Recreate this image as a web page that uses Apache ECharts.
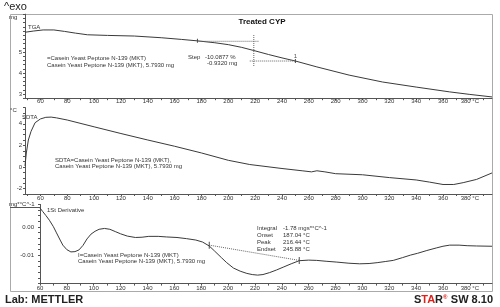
<!DOCTYPE html>
<html>
<head>
<meta charset="utf-8">
<script src="https://cdn.jsdelivr.net/npm/echarts@6/dist/echarts.min.js"></script>
<style>
  html, body { margin: 0; padding: 0; background: #fff; }
  #chart { width: 500px; height: 307px; }
</style>
</head>
<body>
<div id="chart"></div>
<script>
// temperature axis (°C)
const xTickValues = [50, 60, 70, 80, 90, 100, 110, 120, 130, 140, 150, 160, 170, 180, 190, 200, 210, 220, 230, 240, 250, 260, 270, 280, 290, 300, 310, 320, 330, 340, 350, 360, 370, 380, 390];
const xLabelValues = [60, 80, 100, 120, 140, 160, 180, 200, 220, 240, 260, 280, 300, 320, 340, 360, 380];

// TGA (mg)
const tgaTemp = [48.5, 55, 62, 70, 78, 86, 95, 110, 130, 150, 165, 177, 190, 200, 210, 219, 230, 240, 250, 266, 290, 315, 340, 365, 380, 396.5];
const tgaMass = [5.94, 6.0, 6.05, 6.05, 5.98, 5.9, 5.82, 5.79, 5.76, 5.68, 5.6, 5.53, 5.44, 5.35, 5.22, 5.07, 4.88, 4.72, 4.57, 4.29, 3.9, 3.57, 3.33, 3.1, 2.98, 2.86];
const tgaTicks = [2.8, 3.0, 3.2, 3.4, 3.6, 3.8, 4.0, 4.2, 4.4, 4.6, 4.8, 5.0, 5.2, 5.4, 5.6, 5.8, 6.0, 6.2, 6.4, 6.6, 6.8];
const tgaLabels = [3, 4, 5];
const stepUpper = [[177, 5.51], [223, 5.51]];
const stepLower = [[216, 4.57], [250, 4.57]];
const stepVertical = [[219, 5.81], [219, 4.3]];
const stepMarks = [[177, 5.53], [250, 4.57]];

// SDTA (°C)
const sdtaTemp = [48.5, 49.5, 51, 53, 56, 60, 64, 68, 72, 80, 100, 120, 140, 160, 180, 200, 216, 240, 255, 262, 266, 272, 280, 300, 320, 340, 350, 360, 368, 375, 385, 396.5];
const sdtaValue = [0.1, 1.3, 2.5, 3.3, 4.1, 4.45, 4.6, 4.62, 4.55, 4.35, 3.72, 3.1, 2.5, 1.92, 1.3, 0.62, 0.23, -0.14, -0.35, -0.45, -0.35, -0.45, -0.62, -0.72, -0.98, -1.2, -1.4, -1.62, -1.62, -1.45, -1.15, -0.55];
const sdtaTicks = [-2.5, -2, -1.5, -1, -0.5, 0, 0.5, 1, 1.5, 2, 2.5, 3, 3.5, 4, 4.5, 5, 5.5];
const sdtaLabels = [-2, 0, 2, 4];

// 1st derivative (mg*°C^-1)
const derivTemp = [60, 62, 64.5, 67, 70, 72, 75, 77, 80, 83, 86, 89, 92, 95, 98, 101, 104, 108, 112, 116, 120, 125, 131, 136, 141, 148, 154, 162, 169, 176, 181, 186, 190, 195, 199, 204, 209, 214, 218, 222, 226, 231, 236, 241, 247, 253, 260, 266, 273, 281, 290, 298, 305, 311, 317, 323, 330, 336, 341, 348, 355, 360, 365, 372, 378, 385, 396.5];
const derivValue = [0.0067, 0.0055, 0.004, 0.0024, 0.0001, -0.0018, -0.0046, -0.0064, -0.008, -0.0088, -0.0087, -0.0081, -0.0065, -0.0042, -0.0025, -0.0015, -0.0008, -0.0005, -0.0008, -0.0016, -0.0024, -0.0032, -0.0037, -0.0036, -0.0033, -0.0033, -0.0035, -0.0037, -0.0041, -0.0046, -0.0053, -0.0067, -0.0085, -0.0108, -0.0126, -0.0145, -0.0156, -0.0164, -0.0168, -0.0170, -0.0168, -0.0161, -0.0152, -0.0142, -0.0130, -0.0119, -0.0117, -0.0118, -0.0121, -0.0124, -0.0128, -0.0130, -0.0129, -0.0126, -0.0122, -0.0118, -0.0108, -0.0099, -0.0093, -0.0083, -0.0074, -0.0068, -0.0064, -0.0064, -0.0066, -0.0067, -0.0068];
const derivTicks = [-0.02, -0.018, -0.016, -0.014, -0.012, -0.01, -0.008, -0.006, -0.004, -0.002, 0, 0.002, 0.004, 0.006, 0.008];
const derivLabels = [-0.01, 0];
const integralBaseline = [[186, -0.0064], [253, -0.0118]];

const FONT = "'Liberation Sans', Arial, sans-serif";
const INK = "#333";
const AXIS = "#555";

const zip = (a, b) => a.map((v, i) => [v, b[i]]);

const makeX = (gridIndex, min, margin) => ({
  type: "value",
  gridIndex,
  min,
  max: 396.5,
  axisLine: { show: true, onZero: false, lineStyle: { color: AXIS, width: 1 } },
  axisTick: { show: true, length: 2, customValues: xTickValues, lineStyle: { color: AXIS } },
  axisLabel: {
    customValues: xLabelValues,
    fontSize: 6,
    fontFamily: FONT,
    color: INK,
    margin,
    formatter: (v) => (v === 380 ? "380 °C" : String(v)),
  },
  splitLine: { show: false },
});

const makeY = (gridIndex, min, max, ticks, labels, fmt, margin) => ({
  type: "value",
  gridIndex,
  min,
  max,
  axisLine: { show: true, onZero: false, lineStyle: { color: AXIS, width: 1 } },
  axisTick: { show: true, length: 2, customValues: ticks, lineStyle: { color: AXIS } },
  axisLabel: {
    customValues: labels,
    fontSize: 6,
    fontFamily: FONT,
    color: INK,
    margin,
    formatter: fmt,
  },
  splitLine: { show: false },
});

const lineSeries = (xi, data, style) => ({
  type: "line",
  xAxisIndex: xi,
  yAxisIndex: xi,
  data,
  symbol: "none",
  silent: true,
  lineStyle: Object.assign({ color: "#3a3a3a", width: 1 }, style || {}),
});

const txt = (text, x, y, extra) => ({
  type: "text",
  x,
  y,
  style: Object.assign(
    { text, fill: INK, font: "6px " + FONT, textVerticalAlign: "middle" },
    extra || {}
  ),
});

const chart = echarts.init(document.getElementById("chart"), null, { renderer: "canvas" });

const option = {
  animation: false,
  backgroundColor: "#fff",
  grid: [
    { left: 25, right: 8, top: 14.2, height: 84 },
    { left: 25, right: 8, top: 107.6, height: 86.4 },
    { left: 40, right: 8, top: 204.4, height: 79.2 },
  ],
  xAxis: [makeX(0, 48.5, 0), makeX(1, 48.5, 1), makeX(2, 60, 2)],
  yAxis: [
    makeY(0, 2.8, 6.8, tgaTicks, tgaLabels, (v) => String(Math.round(v)), 3),
    makeY(1, -2.5, 5.5, sdtaTicks, sdtaLabels, (v) => String(Math.round(v)), 3),
    makeY(2, -0.02, 0.008, derivTicks, derivLabels, (v) => v.toFixed(2), 6),
  ],
  series: [
    lineSeries(0, zip(tgaTemp, tgaMass)),
    lineSeries(0, stepUpper, { type: "dotted", color: "#666" }),
    lineSeries(0, stepLower, { type: "dotted", color: "#666" }),
    lineSeries(0, stepVertical, { type: "dotted", color: "#666" }),
    {
      type: "scatter",
      xAxisIndex: 0,
      yAxisIndex: 0,
      data: stepMarks,
      symbol: "rect",
      symbolSize: [1, 4],
      itemStyle: { color: "#222" },
      label: {
        show: true,
        formatter: (p) => (p.dataIndex === 1 ? "1" : ""),
        position: "top",
        distance: 0,
        fontSize: 6,
        fontFamily: FONT,
        color: "#222",
      },
    },
    lineSeries(1, zip(sdtaTemp, sdtaValue)),
    lineSeries(2, zip(derivTemp, derivValue)),
    lineSeries(2, integralBaseline, { type: "dotted", color: "#666" }),
    {
      type: "scatter",
      xAxisIndex: 2,
      yAxisIndex: 2,
      data: integralBaseline,
      symbol: "rect",
      symbolSize: [1, 7],
      itemStyle: { color: "#222" },
    },
  ],
  graphic: [
    {
      type: "rect",
      shape: { x: 10.5, y: 14.5, width: 482, height: 277 },
      style: { fill: "none", stroke: "#aaa", lineWidth: 1 },
      silent: true,
    },
    {
      type: "line",
      shape: { x1: 10, y1: 207.5, x2: 40, y2: 207.5 },
      style: { stroke: "#555", lineWidth: 1 },
      silent: true,
    },
    txt("^exo", 4, 7, { font: "11px " + FONT, fill: "#222" }),
    txt("Treated CYP", 262, 22, { font: "bold 8px " + FONT, fill: "#111", textAlign: "center" }),
    txt("mg", 9, 17),
    txt("TGA", 28, 27),
    txt("=Casein Yeast Peptone N-139 (MKT)", 47, 58.5),
    txt("Casein Yeast Peptone N-139 (MKT), 5.7930 mg", 47, 65),
    txt("Step", 188, 57),
    txt("-10.0877 %", 205, 57),
    txt("-0.9320 mg", 207, 63.5),
    txt("°C", 10, 110),
    txt("SDTA", 22, 117.5),
    txt("SDTA=Casein Yeast Peptone N-139 (MKT),", 55, 160),
    txt("Casein Yeast Peptone N-139 (MKT), 5.7930 mg", 55, 166),
    txt("mg*°C^-1", 9, 204),
    txt("1St Derivative", 47, 210),
    txt("Integral", 257, 228.5),
    txt("-1.78 mgs*°C^-1", 283, 228.5),
    txt("Onset", 257, 235.5),
    txt("187.04 °C", 283, 235.5),
    txt("Peak", 257, 242.5),
    txt("216.44 °C", 283, 242.5),
    txt("Endset", 257, 249.5),
    txt("245.88 °C", 283, 249.5),
    txt("I=Casein Yeast Peptone N-139 (MKT)", 78, 255),
    txt("Casein Yeast Peptone N-139 (MKT), 5.7930 mg", 78, 261),
    txt("Lab: METTLER", 5, 300, { font: "bold 11px " + FONT, fill: "#222" }),
    {
      type: "text",
      x: 493,
      y: 300,
      style: {
        text: "{k|S}{r|TA}{k|R}{s|®} {k|SW 8.10}",
        textAlign: "right",
        textVerticalAlign: "middle",
        rich: {
          k: { font: "bold 11px " + FONT, fill: "#222" },
          r: { font: "bold 11px " + FONT, fill: "#e0201b" },
          s: { font: "bold 6px " + FONT, fill: "#e0201b", verticalAlign: "top" },
        },
      },
    },
  ],
};

chart.setOption(option);
</script>
</body>
</html>
